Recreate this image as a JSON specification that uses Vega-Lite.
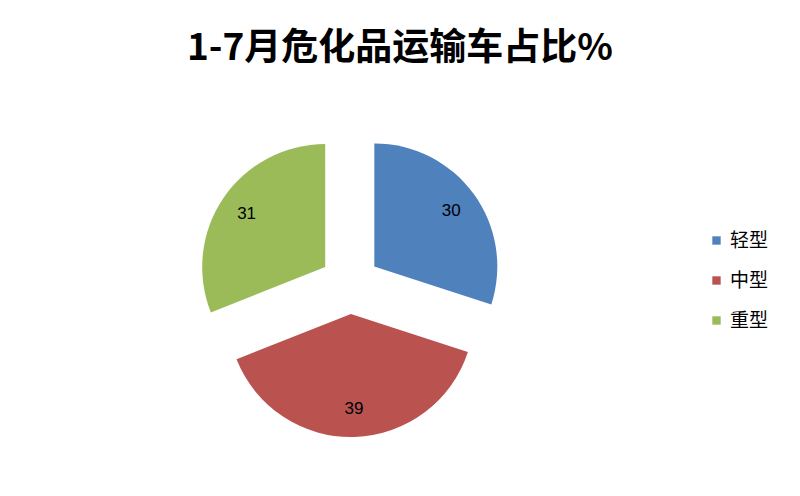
{
  "$schema": "https://vega.github.io/schema/vega-lite/v6.json",
  "width": 700,
  "height": 424,
  "autosize": {"type": "none"},
  "padding": {"left": 0, "top": 72, "right": 100, "bottom": 0},
  "background": "white",
  "config": {"view": {"stroke": null}},
  "title": {
    "text": "1-7月危化品运输车占比%",
    "font": "Noto Sans CJK SC",
    "fontSize": 37,
    "fontWeight": "bold",
    "color": "black",
    "anchor": "middle",
    "dx": 50,
    "offset": 4
  },
  "data": {
    "values": [
      {"type": "轻型", "pct": 30, "seq": 1},
      {"type": "中型", "pct": 39, "seq": 2},
      {"type": "重型", "pct": 31, "seq": 3}
    ]
  },
  "transform": [
    {"stack": "pct", "groupby": [], "sort": [{"field": "seq", "order": "ascending"}], "as": ["t0", "t1"]}
  ],
  "encoding": {
    "color": {
      "field": "type",
      "type": "nominal",
      "sort": null,
      "scale": {
        "domain": ["轻型", "中型", "重型"],
        "range": ["#4F81BD", "#BA524F", "#9BBB59"]
      },
      "legend": {
        "title": null,
        "orient": "none",
        "legendX": 707,
        "legendY": 159,
        "symbolType": "square",
        "symbolSize": 70,
        "symbolStrokeWidth": 0,
        "labelFont": "Noto Sans CJK SC",
        "labelFontSize": 19,
        "labelColor": "black",
        "rowPadding": 20,
        "labelOffset": 4
      }
    }
  },
  "layer": [
    {
      "transform": [{"filter": "datum.type === '轻型'"}],
      "mark": {"type": "arc", "outerRadius": 123, "xOffset": 24.3, "yOffset": -17.6},
      "encoding": {
        "theta": {"field": "t0", "type": "quantitative", "scale": {"domain": [0, 100]}},
        "theta2": {"field": "t1"}
      }
    },
    {
      "transform": [{"filter": "datum.type === '中型'"}],
      "mark": {"type": "arc", "outerRadius": 123, "xOffset": 0.9, "yOffset": 30},
      "encoding": {
        "theta": {"field": "t0", "type": "quantitative", "scale": {"domain": [0, 100]}},
        "theta2": {"field": "t1"}
      }
    },
    {
      "transform": [{"filter": "datum.type === '重型'"}],
      "mark": {"type": "arc", "outerRadius": 123, "xOffset": -24.8, "yOffset": -16.9},
      "encoding": {
        "theta": {"field": "t0", "type": "quantitative", "scale": {"domain": [0, 100]}},
        "theta2": {"field": "t1"}
      }
    },
    {
      "mark": {
        "type": "text",
        "radius": 125,
        "font": "Liberation Sans",
        "fontSize": 17
      },
      "encoding": {
        "theta": {"field": "pct", "type": "quantitative", "stack": true, "scale": {"domain": [0, 100]}},
        "order": {"field": "seq", "type": "quantitative", "sort": "ascending"},
        "text": {"field": "pct", "type": "quantitative"},
        "color": {"value": "black"}
      }
    }
  ]
}
